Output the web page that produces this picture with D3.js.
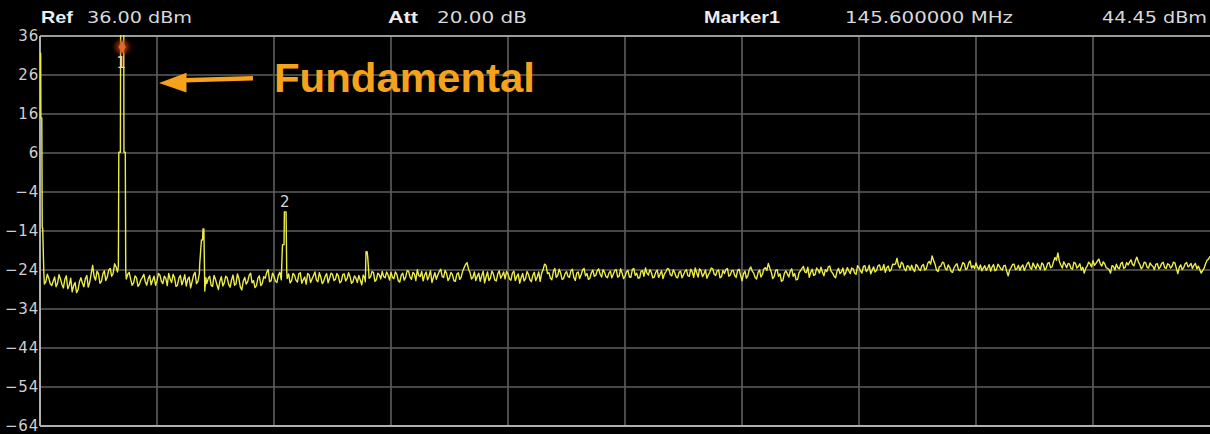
<!DOCTYPE html>
<html>
<head>
<meta charset="utf-8">
<script src="https://cdn.jsdelivr.net/npm/d3@7"></script>
<style>
  html, body { margin: 0; padding: 0; background: #000; }
  svg { display: block; }
</style>
</head>
<body>
<svg id="chart" width="1210" height="434"></svg>
<script>
// Sweep settings
const refLevel = 36;        // dBm, top graticule line
const attenuation = 20;     // dB
const startMHz = 72;
const stopMHz = 1120;

// Level axis labels (dBm)
const yTicks = [36, 26, 16, 6, -4, -14, -24, -34, -44, -54, -64];

// Markers
const markerNames = ["1", "2"];
const markerFreqs = [145.6, 291.2];     // MHz
const markerLevels = [44.45, -9.1];     // dBm

// Noise floor, evenly spaced from startMHz to stopMHz (dBm)
const noiseLevels = [
  -24.5, -25.2, -27.0, -26.1, -28.0, -25.8, -27.4, -26.3, -28.6, -25.5, -27.9, -29.6, -27.2, -29.1, -26.0, -28.3, -25.4, -27.1, -22.8, -26.6,
  -25.0, -26.9, -24.2, -25.8, -23.6, -24.9, -23.2, -23.5, -24.0, -24.0, -25.1, -26.4, -27.3, -26.0, -27.6, -25.9, -27.0, -26.2, -27.8, -25.6,
  -26.8, -25.3, -27.5, -26.1, -24.9, -27.2, -26.0, -27.9, -25.4, -26.7, -28.1, -25.8, -27.0, -24.6, -26.9, -22.7, -13.5, -27.5, -25.6, -28.2,
  -26.4, -29.0, -25.7, -27.3, -26.0, -28.4, -25.3, -27.6, -26.2, -29.1, -25.9, -27.0, -24.8, -26.7, -28.0, -25.5, -27.4, -26.1, -23.9, -26.8,
  -25.6, -27.2, -24.6, -22.0, -24.0, -25.0, -26.8, -25.3, -27.1, -24.7, -26.5, -27.6, -25.2, -26.3, -24.5, -27.0, -25.8, -26.9, -24.9, -26.1,
  -25.1, -26.4, -25.5, -26.9, -25.0, -26.2, -25.7, -27.0, -26.1, -25.4, -27.8, -26.0, -24.3, -25.8, -24.6, -26.5, -25.2, -24.4, -26.0, -25.3,
  -24.6, -26.2, -25.1, -27.1, -24.8, -25.9, -24.3, -26.4, -25.0, -23.9, -25.7, -26.8, -24.5, -25.6, -27.2, -24.7, -25.3, -23.8, -25.9, -24.9,
  -26.0, -25.2, -26.9, -24.7, -25.8, -23.4, -22.1, -24.6, -25.9, -26.7, -24.8, -25.5, -27.3, -24.5, -26.1, -25.0, -26.8, -24.2, -25.4, -26.3,
  -25.0, -26.6, -24.3, -25.7, -27.4, -24.9, -26.2, -25.1, -27.0, -24.6, -25.8, -26.9, -23.9, -22.8, -24.7, -26.5, -23.6, -25.4, -24.8, -26.2,
  -24.4, -25.9, -23.8, -26.7, -24.5, -25.2, -23.6, -24.9, -26.1, -24.0, -25.4, -23.7, -25.8, -24.6, -26.0, -24.3, -25.1, -23.9, -25.6, -24.8,
  -25.7, -24.1, -25.9, -23.6, -24.8, -26.0, -24.2, -23.5, -25.3, -24.6, -25.8, -24.0, -25.1, -26.2, -24.4, -23.8, -25.5, -24.7, -26.0, -24.3,
  -25.2, -23.9, -25.6, -24.5, -23.5, -25.8, -24.2, -25.0, -26.1, -24.6, -23.7, -25.4, -24.0, -25.7, -24.9, -23.6, -25.3, -24.1, -25.9, -23.8,
  -26.8, -24.3, -25.5, -23.2, -24.8, -26.3, -24.0, -25.1, -23.4, -22.3, -24.5, -25.7, -23.9, -25.0, -26.6, -24.2, -25.8, -23.7, -24.9, -26.4,
  -24.2, -23.1, -24.7, -25.9, -23.8, -25.2, -24.0, -23.3, -25.5, -24.4, -23.0, -24.8, -26.0, -23.6, -24.5, -25.3, -23.4, -24.9, -23.7, -25.1,
  -23.4, -24.8, -22.9, -23.9, -25.0, -23.2, -24.1, -22.7, -23.8, -24.6, -23.0, -23.9, -22.6, -21.0, -23.5, -22.4, -24.2, -23.1, -22.8, -24.4,
  -23.0, -24.1, -22.6, -23.7, -21.8, -20.4, -22.5, -24.4, -23.0, -22.2, -24.0, -23.3, -24.6, -22.8, -23.9, -23.2, -22.4, -23.6, -21.7, -22.9,
  -22.2, -23.8, -24.2, -22.9, -23.5, -24.3, -22.6, -23.9, -23.1, -24.0, -22.8, -25.5, -23.4, -22.5, -23.7, -24.1, -22.7, -23.3, -22.0, -23.8,
  -23.0, -22.4, -23.9, -22.6, -23.5, -22.1, -23.2, -20.8, -19.6, -22.7, -21.9, -23.4, -22.5, -23.8, -22.3, -23.1, -24.0, -24.8, -23.0, -22.4,
  -21.6, -22.3, -21.2, -23.0, -22.4, -23.6, -24.8, -23.1, -22.5, -23.7, -22.0, -23.3, -22.7, -21.4, -22.9, -20.7, -22.6, -23.2, -22.1, -23.5,
  -22.8, -23.9, -22.4, -23.2, -22.0, -23.6, -22.6, -23.1, -22.2, -24.9, -22.7, -23.4, -22.1, -22.9, -23.6, -22.3, -23.0, -24.8, -23.5, -21.5,
  -20.5
];

// Noise floor between consecutive samples above (half a step later each)
const noiseMidLevels = [
  -26.8, -27.6, -25.1, -27.5, -26.9, -28.3, -25.2, -27.7, -26.4, -28.8, -26.1, -28.0, -29.8, -27.0, -27.4, -26.2, -28.4, -24.9, -25.7, -24.3,
  -27.4, -25.0, -26.7, -24.0, -25.6, -22.4, -24.5, -22.9, -23.8, -26.3, -24.6, -27.9, -25.5, -28.2, -26.5, -25.1, -27.9, -25.4, -26.6, -27.9,
  -24.9, -26.9, -25.6, -28.0, -26.3, -25.1, -28.2, -26.0, -27.8, -25.2, -26.4, -28.6, -25.3, -27.5, -24.8, -20.0, -20.0, -26.2, -27.9, -25.4,
  -27.8, -26.9, -28.1, -25.6, -27.7, -26.5, -27.9, -25.0, -28.4, -26.8, -27.6, -25.4, -27.3, -28.5, -26.1, -28.0, -25.7, -24.6, -27.0, -24.8,
  -26.9, -25.3, -26.5, -20.0, -26.2, -27.3, -24.9, -26.6, -25.0, -27.4, -25.8, -24.9, -27.2, -25.4, -26.6, -24.7, -27.5, -25.6, -27.3, -24.8,
  -26.7, -24.9, -27.3, -25.2, -26.8, -24.7, -27.4, -25.5, -27.2, -26.6, -25.3, -22.0, -26.1, -24.4, -26.9, -24.8, -26.3, -25.7, -24.5, -26.6,
  -25.9, -24.5, -26.8, -25.3, -26.6, -24.2, -25.8, -24.6, -26.7, -25.4, -24.4, -25.3, -26.5, -24.2, -25.9, -26.4, -24.4, -25.7, -24.1, -26.7,
  -24.6, -26.7, -25.1, -26.4, -24.3, -22.6, -23.8, -26.3, -24.5, -25.6, -26.9, -24.3, -25.8, -26.7, -24.3, -26.6, -25.0, -26.1, -24.5, -24.4,
  -26.3, -24.8, -26.7, -25.0, -26.0, -26.8, -24.4, -26.5, -25.3, -26.7, -24.5, -24.8, -22.5, -24.9, -26.1, -24.4, -25.9, -23.8, -26.4, -25.0,
  -25.6, -24.2, -25.9, -24.8, -26.2, -24.0, -25.5, -26.4, -24.7, -25.6, -24.2, -25.1, -23.9, -25.7, -24.8, -26.0, -24.1, -25.8, -23.7, -26.2,
  -24.5, -25.8, -23.9, -25.4, -26.1, -24.3, -25.6, -24.8, -23.9, -26.0, -24.6, -25.9, -24.2, -25.0, -23.6, -25.2, -23.9, -25.8, -24.6, -26.0,
  -24.3, -25.5, -23.8, -25.9, -24.7, -23.7, -25.7, -24.0, -25.2, -23.5, -25.1, -24.2, -26.0, -24.1, -23.9, -25.6, -24.2, -25.4, -24.1, -25.3,
  -25.0, -26.1, -23.9, -24.3, -25.9, -24.6, -25.8, -23.7, -24.1, -23.5, -26.2, -24.1, -25.6, -26.9, -24.8, -25.0, -24.3, -25.6, -26.5, -24.7,
  -23.6, -24.5, -23.3, -24.6, -25.4, -23.5, -24.8, -24.6, -23.9, -23.2, -24.4, -25.6, -24.3, -24.9, -23.5, -24.6, -24.2, -23.5, -24.8, -22.9,
  -24.2, -23.1, -24.4, -22.8, -24.1, -24.5, -22.9, -24.0, -22.6, -23.4, -24.3, -22.5, -22.4, -22.9, -22.0, -23.7, -22.9, -24.0, -23.8, -22.6,
  -23.8, -22.9, -24.0, -22.3, -22.5, -21.6, -24.0, -23.1, -22.0, -23.6, -22.7, -24.4, -23.4, -22.4, -24.2, -22.1, -23.9, -22.2, -23.5, -23.6,
  -23.3, -22.7, -23.5, -24.1, -22.6, -23.2, -24.2, -22.5, -23.7, -22.9, -24.3, -24.0, -22.6, -23.9, -22.8, -23.2, -24.1, -22.4, -23.4, -22.2,
  -23.7, -23.1, -22.2, -24.0, -22.3, -23.4, -21.9, -21.5, -21.8, -23.5, -22.6, -22.3, -23.6, -22.0, -23.5, -22.4, -23.3, -23.6, -22.0, -23.2,
  -22.8, -21.7, -22.4, -21.9, -23.4, -23.9, -22.9, -24.0, -23.4, -22.4, -23.6, -22.1, -22.0, -22.6, -21.6, -21.9, -23.7, -22.0, -23.3, -22.2,
  -23.1, -22.5, -23.7, -22.3, -23.4, -22.4, -23.5, -22.0, -23.6, -23.3, -23.9, -22.4, -23.2, -22.3, -22.8, -23.7, -23.9, -24.1, -22.4, -21.2
];

// Discrete signals on top of the noise: 0.5f, fundamental, 1.5f, 2f, 2.5f
const spurFreqs = [
  [72.0, 72.6, 72.8, 73.6, 74.0, 74.4, 75.4],
  [142.2, 142.6, 144.0, 144.2, 145.6, 147.0, 147.2, 148.4, 148.8],
  [215.0, 216.6, 217.6, 218.0, 218.8, 219.6, 220.6],
  [288.6, 289.2, 290.6, 290.9, 292.4, 293.0],
  [363.4, 364.0, 365.0, 365.5, 366.4]
];
const spurLevels = [
  [31.6, 31.6, 15.0, 15.0, -13.2, -13.2, -24.6],
  [-23.0, 6.2, 6.2, 38.0, 44.45, 38.0, 6.2, 6.2, -24.2],
  [-22.7, -16.3, -16.3, -13.5, -13.5, -29.4, -26.0],
  [-22.2, -17.5, -17.5, -9.1, -9.1, -24.3],
  [-27.0, -19.3, -19.3, -20.5, -24.3]
];

// ---- build the trace ----
const sampleStep = (stopMHz - startMHz) / (noiseLevels.length - 1);
let trace = [];
noiseLevels.forEach((v, i) => {
  trace.push({ f: startMHz + i * sampleStep, v });
  if (i < noiseMidLevels.length) trace.push({ f: startMHz + (i + 0.5) * sampleStep, v: noiseMidLevels[i] });
});
spurFreqs.forEach((fs, g) => {
  const lo = fs[0], hi = fs[fs.length - 1];
  trace = trace.filter(p => p.f < lo || p.f > hi);
  fs.forEach((f, k) => trace.push({ f, v: spurLevels[g][k] }));
});
trace.sort((a, b) => a.f - b.f);

// ---- layout ----
const W = 1210, H = 434;
const plotL = 40, plotR = 1210, plotT = 36, plotB = 426;

const svg = d3.select("#chart");
svg.append("rect").attr("width", W).attr("height", H).attr("fill", "#000");

const x = d3.scaleLinear().domain([startMHz, stopMHz]).range([plotL, plotR]);
const y = d3.scaleLinear().domain([yTicks[yTicks.length - 1], yTicks[0]]).range([plotB, plotT]);

const defs = svg.append("defs");
defs.append("clipPath").attr("id", "plotClip")
  .append("rect").attr("x", plotL).attr("y", plotT - 1).attr("width", plotR - plotL).attr("height", plotB - plotT + 1);
const glow = defs.append("filter").attr("id", "glow").attr("x", "-100%").attr("y", "-100%").attr("width", "300%").attr("height", "300%");
glow.append("feGaussianBlur").attr("stdDeviation", 2.2);

// graticule
const grid = svg.append("g");
grid.selectAll("line.h")
  .data(yTicks.slice(1, -1))
  .join("line")
  .attr("class", "h")
  .attr("x1", plotL).attr("x2", plotR)
  .attr("y1", d => y(d)).attr("y2", d => y(d))
  .attr("stroke", "#5e5e5e").attr("stroke-width", 1.6);
const divisions = d3.range(1, 10).map(k => startMHz + k * (stopMHz - startMHz) / 10);
grid.selectAll("line.v")
  .data(divisions)
  .join("line")
  .attr("class", "v")
  .attr("x1", d => x(d)).attr("x2", d => x(d))
  .attr("y1", plotT).attr("y2", plotB)
  .attr("stroke", "#5e5e5e").attr("stroke-width", 1.6);

// frame
svg.append("line").attr("x1", plotL).attr("x2", plotR).attr("y1", plotT).attr("y2", plotT)
  .attr("stroke", "#9c9c9c").attr("stroke-width", 2);
svg.append("line").attr("x1", plotL).attr("x2", plotR).attr("y1", plotB).attr("y2", plotB)
  .attr("stroke", "#b0b0b0").attr("stroke-width", 2);
svg.append("line").attr("x1", plotL).attr("x2", plotL).attr("y1", plotT).attr("y2", plotB)
  .attr("stroke", "#b0b0b0").attr("stroke-width", 2);

// level labels
const yAxis = svg.append("g")
  .attr("transform", `translate(${plotL},0)`)
  .call(d3.axisLeft(y).tickValues(yTicks).tickSize(0).tickPadding(1).tickFormat(d3.format("d")));
yAxis.select(".domain").remove();
yAxis.selectAll("text")
  .attr("fill", "#cfcfcf")
  .style("font-family", "'DejaVu Sans', sans-serif")
  .style("font-size", "15px")
  .style("letter-spacing", "0.8px");

// trace
const line = d3.line().x(d => x(d.f)).y(d => y(d.v));
svg.append("path")
  .datum(trace)
  .attr("clip-path", "url(#plotClip)")
  .attr("d", line)
  .attr("fill", "none")
  .attr("stroke", "#ecec48")
  .attr("stroke-width", 1.4)
  .attr("stroke-linejoin", "round");

// marker 1 (above the reference level: pinned just below the top line)
const m1x = x(markerFreqs[0]);
const m1y = markerLevels[0] > refLevel ? y(refLevel) + 11 : y(markerLevels[0]) - 6;
svg.append("circle").attr("cx", m1x).attr("cy", m1y).attr("r", 7)
  .attr("fill", "#a2300e").attr("opacity", 0.85).attr("filter", "url(#glow)");
svg.append("path")
  .attr("transform", `translate(${m1x},${m1y})`)
  .attr("d", d3.symbol(d3.symbolDiamond, 48)())
  .attr("fill", "#df6a2c");

const markerText = svg.append("g")
  .style("font-family", "'DejaVu Sans', sans-serif")
  .style("font-size", "15px")
  .attr("fill", "#d6d6d6")
  .attr("text-anchor", "middle");
markerText.append("text").attr("x", m1x - 1).attr("y", m1y + 21).text(markerNames[0]);
markerText.append("text").attr("x", x(markerFreqs[1])).attr("y", y(markerLevels[1]) - 5).text(markerNames[1]);

// header line
const header = svg.append("g");
function headText(t, x0, len, bold) {
  header.append("text")
    .attr("x", x0).attr("y", 23)
    .attr("textLength", len).attr("lengthAdjust", "spacingAndGlyphs")
    .style("font-family", bold ? "'Liberation Sans', Arial, sans-serif" : "'DejaVu Sans', sans-serif")
    .style("font-weight", bold ? "bold" : "normal")
    .style("font-size", bold ? "17px" : "16px")
    .attr("fill", bold ? "#ececec" : "#d8d8d8")
    .text(t);
}
headText("Ref", 41, 32, true);
headText(`${refLevel.toFixed(2)} dBm`, 87, 105, false);
headText("Att", 388, 30, true);
headText(`${attenuation.toFixed(2)} dB`, 437, 90, false);
headText(`Marker${markerNames[0]}`, 704, 76, true);
headText(`${markerFreqs[0].toFixed(6)} MHz`, 845, 168, false);
headText(`${markerLevels[0].toFixed(2)} dBm`, 1102, 105, false);

// annotation
const orange = "#f7a21b";
svg.append("line")
  .attr("x1", 253).attr("y1", 78.3).attr("x2", 184).attr("y2", 80.2)
  .attr("stroke", orange).attr("stroke-width", 4.4);
svg.append("path")
  .attr("d", "M159,83 L186.5,72.8 L186.5,92.4 Z")
  .attr("fill", orange);
svg.append("text")
  .attr("x", 274).attr("y", 92)
  .attr("textLength", 261).attr("lengthAdjust", "spacingAndGlyphs")
  .style("font-family", "'Liberation Sans', Arial, sans-serif")
  .style("font-weight", "bold")
  .style("font-size", "40px")
  .attr("fill", orange)
  .text("Fundamental");
</script>
</body>
</html>
